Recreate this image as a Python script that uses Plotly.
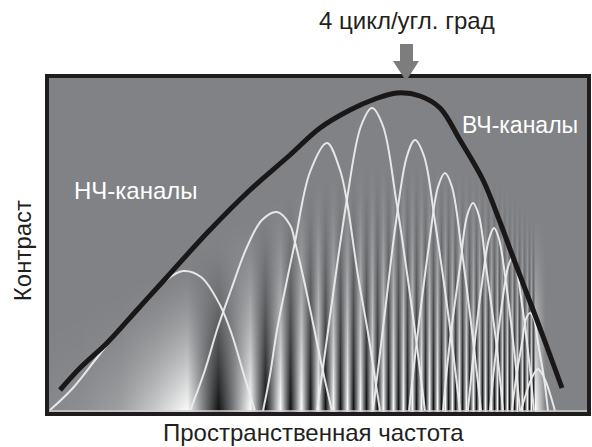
import numpy as np
import plotly.graph_objects as go

# Black envelope (overall contrast sensitivity)
envelope_x = [13, 33, 60, 90, 120, 160, 203, 243, 273, 303, 328, 350, 373, 393, 413, 436, 453, 466, 485, 500, 515]
envelope_y = [24, 46, 71, 104, 137, 181, 224, 259, 286, 304, 315, 321, 318, 306, 274, 234, 192, 157, 107, 67, 26]

# White channel curves, one list per channel
channel_x = [
    [3, 26, 60, 93, 118, 136, 154, 173, 185, 197, 208],
    [143, 158, 170, 184, 200, 215, 230, 243, 248, 258, 267, 275, 285],
    [216, 223, 230, 239, 248, 263, 280, 293, 300, 311, 321, 333],
    [270, 284, 300, 314, 325, 336, 349, 365, 378],
    [326, 337, 349, 360, 368, 377, 388, 402, 413],
    [362, 371, 382, 391, 398, 405, 414, 425, 434],
    [396, 403, 413, 420, 426, 432, 439, 449, 456],
    [421, 427, 435, 442, 447, 452, 459, 467, 473],
    [443, 448, 455, 461, 465, 469, 475, 482, 487],
    [465, 469, 475, 479, 483, 487, 491, 497, 501],
    [474, 478, 483, 488, 491, 494, 499, 504, 508],
]
channel_y = [
    [4, 26, 69, 107, 133, 143, 137, 109, 79, 39, 3],
    [3, 44, 84, 124, 167, 194, 202, 189, 172, 129, 86, 47, 3],
    [3, 39, 84, 129, 172, 242, 271, 244, 212, 138, 81, 3],
    [3, 105, 215, 288, 306, 288, 215, 105, 3],
    [3, 94, 192, 258, 274, 258, 192, 94, 3],
    [3, 83, 169, 227, 241, 227, 169, 83, 3],
    [3, 73, 148, 198, 211, 198, 148, 73, 3],
    [3, 65, 131, 175, 186, 175, 131, 65, 3],
    [3, 54, 110, 147, 156, 147, 110, 54, 3],
    [3, 36, 71, 95, 101, 95, 71, 36, 3],
    [3, 17, 32, 42, 45, 42, 32, 17, 3],
]

# Background grating: slow lead-in, then bright / dark band centres
lead_x = [0, 33, 73, 108, 140]
lead_tone = [0.05, 0.1, 0.25, 0.6, 1.0]
bright_x = [203, 233, 254, 271, 286, 300, 313, 325, 336, 346, 356, 365, 374, 382, 390, 398,
            405, 412, 419, 426, 432, 438, 444, 450, 455, 460, 465, 470, 475, 480, 484, 488]
dark_x = [171, 218, 243, 263, 278, 293, 306, 319, 330, 341, 351, 360, 369, 378, 386, 394,
          401, 408, 415, 422, 429, 435, 441, 447, 452, 457, 462, 467, 472, 477, 482, 486]
tail_x = [498, 542]

# How high the grating stays visible along the frequency axis
reach_x = [0, 140, 171, 250, 350, 450, 490, 542]
reach_h = [90, 150, 170, 230, 260, 240, 200, 150]

gx = np.array(lead_x + bright_x + dark_x + tail_x, dtype=float)
gt = np.array(lead_tone + [1.0] * len(bright_x) + [-1.0] * len(dark_x) + [0.0] * len(tail_x))
order = np.argsort(gx)
gx, gt = gx[order], gt[order]
rows = np.arange(0, 342, 6, dtype=float)
reach = np.interp(gx, reach_x, reach_h)
z = np.clip(1 - rows[:, None] / reach[None, :], 0, 1) ** 1.5 * gt[None, :]

bg = "#808285"
fig = go.Figure()

fig.add_trace(go.Heatmap(
    x=gx, y=rows, z=z, zmin=-1, zmax=1, zsmooth="best", showscale=False,
    colorscale=[[0, "#0e0e0e"], [0.5, bg], [1, "#ffffff"]], hoverinfo="skip",
))

for cx, cy in zip(channel_x, channel_y):
    fig.add_trace(go.Scatter(
        x=cx, y=cy, mode="lines", line=dict(color="rgba(236,236,236,0.95)", width=2, shape="spline"),
        hoverinfo="skip",
    ))

fig.add_trace(go.Scatter(
    x=envelope_x, y=envelope_y, mode="lines",
    line=dict(color="#1a1718", width=5, shape="spline"), hoverinfo="skip",
))

fig.update_layout(
    width=592, height=447,
    margin=dict(l=47, r=3, t=76, b=33),
    paper_bgcolor="white", plot_bgcolor=bg,
    showlegend=False,
    xaxis=dict(range=[0, 542], visible=False),
    yaxis=dict(range=[0, 338], visible=False),
    font=dict(family="Liberation Sans, Arial, sans-serif", size=24, color="#231f20"),
    shapes=[
        dict(type="line", xref="paper", yref="y", x0=0, x1=1, y0=3, y1=3,
             line=dict(color="#cfcfcf", width=1.5), layer="above"),
        dict(type="rect", xref="paper", yref="paper", x0=0, x1=1, y0=0, y1=1,
             line=dict(color="#1f1c1d", width=4), layer="above"),
        dict(type="path", xref="paper", yref="paper",
             path="M 0.6513,1.0947 L 0.6753,1.0947 L 0.6753,1.0444 L 0.6863,1.0444 "
                  "L 0.6624,0.9852 L 0.6384,1.0444 L 0.6513,1.0444 Z",
             fillcolor="#7d7d7d", line=dict(width=0), layer="above"),
    ],
    annotations=[
        dict(text="4 цикл/угл. град", xref="paper", yref="paper", x=0.665, y=1.165,
             showarrow=False, xanchor="center", yanchor="middle"),
        dict(text="НЧ-каналы", xref="x", yref="y", x=89, y=224, showarrow=False,
             xanchor="center", yanchor="middle", font=dict(color="white", size=24)),
        dict(text="ВЧ-каналы", xref="x", yref="y", x=473, y=289, showarrow=False,
             xanchor="center", yanchor="middle", font=dict(color="white", size=23)),
        dict(text="Контраст", xref="paper", yref="paper", x=-0.046, y=0.482, textangle=-90,
             showarrow=False, xanchor="center", yanchor="middle"),
        dict(text="Пространственная частота", xref="paper", yref="paper", x=0.4926, y=-0.0533,
             showarrow=False, xanchor="center", yanchor="middle", font=dict(size=24),
             borderpad=0),
    ],
)

fig.write_html(
    "out.html",
    config={"displayModeBar": False},
    post_script="document.body.style.margin='0';document.body.style.overflow='hidden';",
)
